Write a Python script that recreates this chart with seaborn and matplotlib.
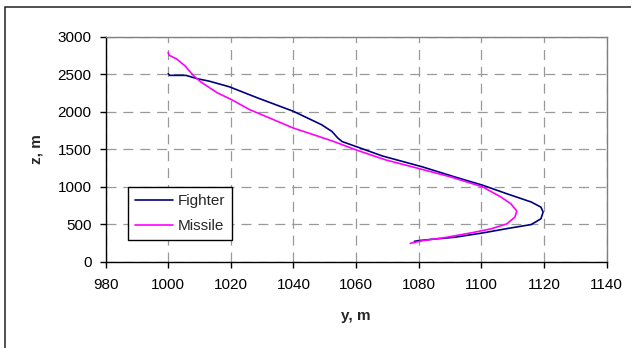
import matplotlib
matplotlib.use("Agg")
import matplotlib.pyplot as plt
import seaborn as sns
import pandas as pd
from matplotlib.patches import Rectangle

# Data
fighter_y = [1000, 1000.5, 1005.7, 1009.3, 1013, 1019.5, 1028.5, 1040, 1049, 1052.3, 1054.2,
             1055.5, 1060, 1068.4, 1081, 1091.4, 1100.4, 1108, 1115.9, 1119, 1119.7, 1119,
             1115.9, 1109.4, 1100.4, 1091.4, 1085, 1079.9, 1078.6]
fighter_z = [2505, 2484, 2484, 2439, 2408, 2332, 2184, 2004, 1825, 1735, 1646,
             1601, 1534, 1408, 1265, 1130, 1018, 906, 794, 726, 659, 570,
             493, 448, 381, 323, 300, 278, 269]
missile_y = [1000, 1000.3, 1002.8, 1005.4, 1008, 1010.5, 1015.7, 1020.2, 1026, 1033.7, 1040,
             1046.5, 1052.9, 1060, 1069.6, 1079.9, 1090.1, 1100.4, 1106.2, 1109.4, 1111.3,
             1110.7, 1108.1, 1103, 1096.6, 1087.6, 1081.2, 1077.3]
missile_z = [2789, 2753, 2700, 2610, 2484, 2394, 2251, 2161, 2027, 1892, 1780,
             1691, 1601, 1489, 1354, 1242, 1130, 996, 861, 771, 673,
             592, 502, 435, 381, 314, 278, 242]
series_names = ["Fighter", "Missile"]
x_ticks = [980, 1000, 1020, 1040, 1060, 1080, 1100, 1120, 1140]
y_ticks = [0, 500, 1000, 1500, 2000, 2500, 3000]

df = pd.concat([
    pd.DataFrame({"y": fighter_y, "z": fighter_z, "series": series_names[0]}),
    pd.DataFrame({"y": missile_y, "z": missile_z, "series": series_names[1]}),
], ignore_index=True)

sns.set_style("white")
plt.rcParams["font.family"] = ["Liberation Sans", "DejaVu Sans"]

W, H = 631, 348
fig = plt.figure(figsize=(W / 100, H / 100), dpi=100)
fig.patch.set_facecolor("white")
# outer chart border (right and bottom edges fall outside the image)
fig.add_artist(Rectangle((4.5 / W, -0.02), 1.0, 1 - 6.5 / H + 0.02, transform=fig.transFigure,
                         fill=False, edgecolor="#222222", linewidth=1.1))

ax = fig.add_axes([105.5 / W, 1 - 261.5 / H, (606.7 - 105.5) / W, (261.5 - 36.7) / H])
sns.lineplot(data=df, x="y", y="z", hue="series", sort=False, estimator=None,
             palette={"Fighter": "#000080", "Missile": "#FF00FF"}, linewidth=1.2, ax=ax)

ax.set_xlim(980, 1140)
ax.set_ylim(0, 3000)
ax.set_xticks(x_ticks)
ax.set_yticks(y_ticks)
ax.grid(True, color="#999999", linestyle=(0, (8, 5.5)), linewidth=0.9)
ax.set_axisbelow(True)
for s in ["top", "right"]:
    ax.spines[s].set_color("#808080")
    ax.spines[s].set_linewidth(1.0)
for s in ["left", "bottom"]:
    ax.spines[s].set_color("#000000")
    ax.spines[s].set_linewidth(1.0)
ax.tick_params(axis="both", direction="out", length=4, width=1, color="black",
               labelsize=11, labelcolor="black", left=True, bottom=True)
ax.tick_params(axis="x", pad=8)
ax.tick_params(axis="y", pad=6)
ax.set_xlabel("y, m", fontsize=11, fontweight="bold", labelpad=12)
ax.set_ylabel("z, m", fontsize=11, fontweight="bold", labelpad=10)

leg = ax.legend(title=None, loc="upper left",
                bbox_to_anchor=((128 - 105.5) / (606.7 - 105.5), (261.5 - 187) / (261.5 - 36.7)),
                borderaxespad=0,
                frameon=True, fancybox=False, shadow=False, fontsize=11,
                handlelength=2.5, handletextpad=0.3, borderpad=0.45, labelspacing=0.75)
leg.get_frame().set_edgecolor("black")
leg.get_frame().set_linewidth(1.0)
leg.get_frame().set_alpha(1)

fig.savefig("out.png", dpi=100)
